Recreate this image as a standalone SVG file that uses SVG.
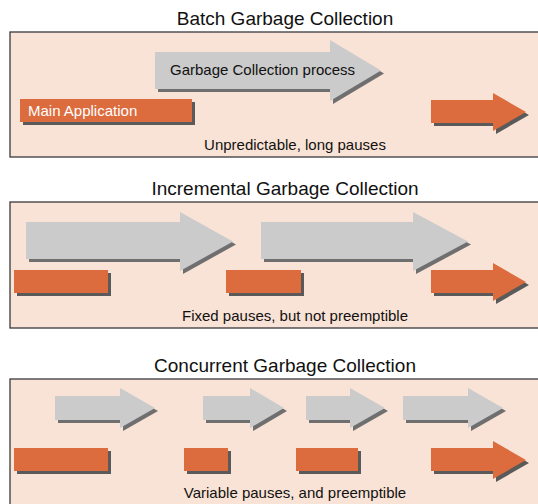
<svg xmlns="http://www.w3.org/2000/svg" width="538" height="504" viewBox="0 0 538 504">
<style>
.panel{fill:#f9e3d6;stroke:#3a3a3a;stroke-width:1.3}
.title{font-family:"Liberation Sans",Arial,sans-serif;font-size:19px;fill:#111;text-anchor:middle}
.note{font-family:"Liberation Sans",Arial,sans-serif;font-size:15px;fill:#111;text-anchor:middle}
.lbl{font-family:"Liberation Sans",Arial,sans-serif;font-size:15px;fill:#111}
.lblw{font-family:"Liberation Sans",Arial,sans-serif;font-size:15px;fill:#fff}
.gc{fill:#cbcbcb}
.gcs{fill:#6f6f6f}
.app{fill:#dc6b3e}
.apps{fill:#5a5a5a}
</style>
<rect width="538" height="504" fill="#fff"/>

<g id="batch">
<text class="title" x="285" y="25">Batch Garbage Collection</text>
<rect class="panel" x="10" y="32" width="540" height="125"/>
<g id="batch-gc">
<path class="gcs" transform="translate(3,3)" d="M155 52H330V40L381 70.5L330 101V89H155Z"/>
<path class="gc" d="M155 52H330V40L381 70.5L330 101V89H155Z"/>
<text class="lbl" x="170" y="75">Garbage Collection process</text>
</g>
<g id="batch-app">
<rect class="apps" x="23" y="102" width="172" height="23"/>
<rect class="app" x="20" y="99" width="172" height="23"/>
<text class="lblw" x="28" y="116">Main Application</text>
</g>
<g id="batch-app-arrow">
<path class="apps" transform="translate(3,3)" d="M431 100H493V93L526 112L493 131V123H431Z"/>
<path class="app" d="M431 100H493V93L526 112L493 131V123H431Z"/>
</g>
<text class="note" x="295" y="150">Unpredictable, long pauses</text>
</g>

<g id="incremental">
<text class="title" x="285" y="195">Incremental Garbage Collection</text>
<rect class="panel" x="10" y="202" width="540" height="126"/>
<g id="inc-gc1">
<path class="gcs" transform="translate(3,3)" d="M26 222H180V212L233 241.5L180 271V259H26Z"/>
<path class="gc" d="M26 222H180V212L233 241.5L180 271V259H26Z"/>
</g>
<g id="inc-gc2">
<path class="gcs" transform="translate(3,3)" d="M261 222H413V212L468 241.5L413 271V259H261Z"/>
<path class="gc" d="M261 222H413V212L468 241.5L413 271V259H261Z"/>
</g>
<g id="inc-app1">
<rect class="apps" x="17" y="273" width="94" height="23"/>
<rect class="app" x="14" y="270" width="94" height="23"/>
</g>
<g id="inc-app2">
<rect class="apps" x="229" y="273" width="75" height="23"/>
<rect class="app" x="226" y="270" width="75" height="23"/>
</g>
<g id="inc-app-arrow">
<path class="apps" transform="translate(3,3)" d="M431 270H493V263L526 282L493 301V293H431Z"/>
<path class="app" d="M431 270H493V263L526 282L493 301V293H431Z"/>
</g>
<text class="note" x="295" y="321">Fixed pauses, but not preemptible</text>
</g>

<g id="concurrent">
<text class="title" x="285" y="372">Concurrent Garbage Collection</text>
<rect class="panel" x="10" y="379" width="540" height="140"/>
<g id="con-gc1">
<path class="gcs" transform="translate(3,3)" d="M55 396H120V388L155 408L120 428V420H55Z"/>
<path class="gc" d="M55 396H120V388L155 408L120 428V420H55Z"/>
</g>
<g id="con-gc2">
<path class="gcs" transform="translate(3,3)" d="M203 396H250V388L284 408L250 428V420H203Z"/>
<path class="gc" d="M203 396H250V388L284 408L250 428V420H203Z"/>
</g>
<g id="con-gc3">
<path class="gcs" transform="translate(3,3)" d="M306 396H350V388L385 408L350 428V420H306Z"/>
<path class="gc" d="M306 396H350V388L385 408L350 428V420H306Z"/>
</g>
<g id="con-gc4">
<path class="gcs" transform="translate(3,3)" d="M403 396H468V388L503 408L468 428V420H403Z"/>
<path class="gc" d="M403 396H468V388L503 408L468 428V420H403Z"/>
</g>
<g id="con-app1">
<rect class="apps" x="17" y="451" width="94" height="23"/>
<rect class="app" x="14" y="448" width="94" height="23"/>
</g>
<g id="con-app2">
<rect class="apps" x="187" y="451" width="44" height="23"/>
<rect class="app" x="184" y="448" width="44" height="23"/>
</g>
<g id="con-app3">
<rect class="apps" x="299" y="451" width="62" height="23"/>
<rect class="app" x="296" y="448" width="62" height="23"/>
</g>
<g id="con-app-arrow">
<path class="apps" transform="translate(3,3)" d="M431 448H493V441L526 460L493 479V471H431Z"/>
<path class="app" d="M431 448H493V441L526 460L493 479V471H431Z"/>
</g>
<text class="note" x="295" y="498">Variable pauses, and preemptible</text>
</g>
</svg>
